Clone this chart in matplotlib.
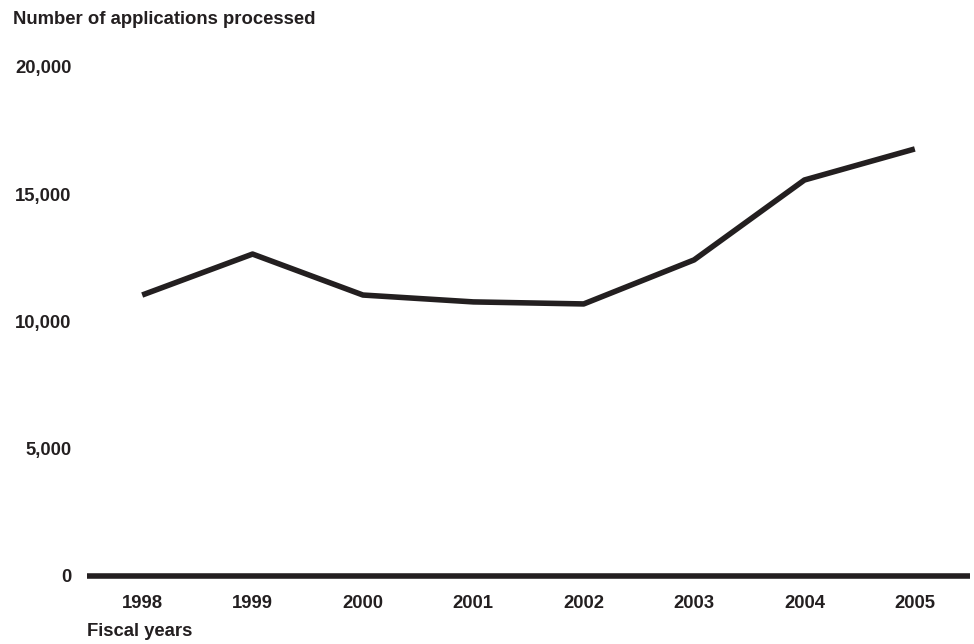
import matplotlib.pyplot as plt

### DATA ###

years = [1998, 1999, 2000, 2001, 2002, 2003, 2004, 2005]
applications = [11040, 12650, 11040, 10770, 10690, 12420, 15560, 16780]
y_ticks = [0, 5000, 10000, 15000, 20000]
y_tick_labels = ["0", "5,000", "10,000", "15,000", "20,000"]

INK = "#231f20"
FS = 13.3

plt.rcParams['font.family'] = ['Liberation Sans', 'DejaVu Sans']
plt.rcParams['font.weight'] = 'bold'

fig = plt.figure(figsize=(9.74, 6.44), dpi=100)
ax = fig.add_axes([87 / 974, (644 - 576) / 644, (970 - 87) / 974, (576 - 67) / 644])

ax.plot(years, applications, color=INK, linewidth=4, solid_capstyle='butt')
ax.axhline(0, color=INK, linewidth=4, clip_on=False, solid_capstyle='butt')

ax.set_xlim(1997.5, 2005.5)
ax.set_ylim(0, 20000)
ax.set_xticks(years, [str(y) for y in years])
ax.set_yticks(y_ticks, y_tick_labels)
ax.tick_params(length=0, labelsize=FS, colors=INK)
ax.tick_params(axis='x', pad=14)
ax.tick_params(axis='y', pad=11)
for lbl in ax.get_xticklabels() + ax.get_yticklabels():
    lbl.set_fontweight('bold')
for s in ax.spines.values():
    s.set_visible(False)

fig.text(13 / 974, 1 - 20 / 644, "Number of applications processed", fontsize=FS,
         fontweight='bold', color=INK, va='center', ha='left')
fig.text(87 / 974, 1 - 632 / 644, "Fiscal years", fontsize=FS,
         fontweight='bold', color=INK, va='center', ha='left')

fig.savefig("out.png", dpi=100)
